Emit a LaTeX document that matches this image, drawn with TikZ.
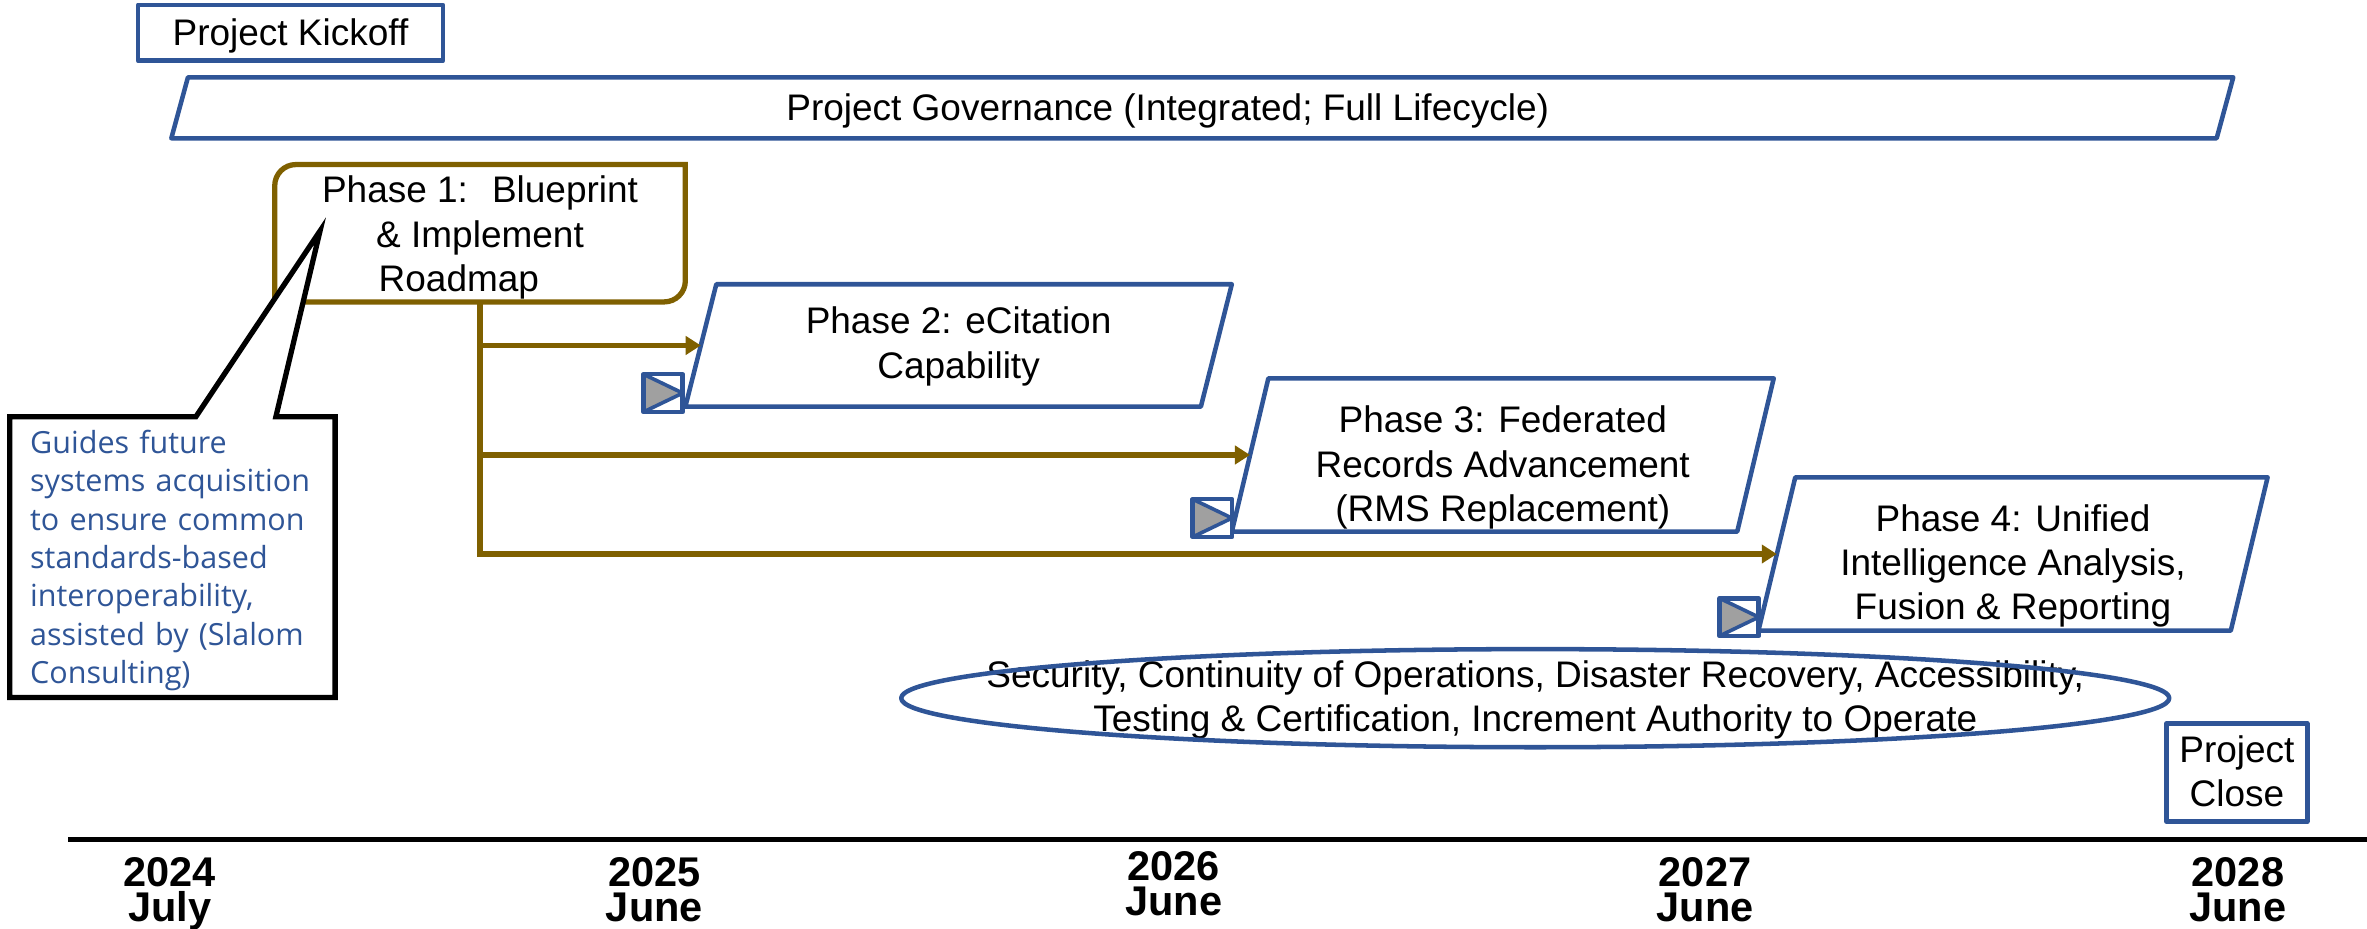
\documentclass[tikz,border=0pt]{standalone}
\usepackage{fontspec}
\setmainfont{Liberation Sans}
\newfontfamily\notefont{Open Sans}
\usetikzlibrary{calc,arrows.meta,shapes.callouts}

\definecolor{planblue}{RGB}{47,85,151}
\definecolor{phasebrown}{RGB}{127,96,0}
\definecolor{playgray}{RGB}{160,160,160}

\begin{document}
\begin{tikzpicture}[x=1pt, y=-1pt,
    every node/.style={font=\fontsize{24.5}{29.4}\selectfont, align=center,
      inner sep=0pt, outer sep=0pt, text height=22pt, text depth=5pt},
    bluebox/.style={draw=planblue, line width=3pt, line join=round},
    brownline/.style={draw=phasebrown, line width=3.5pt},
    brownarrow/.style={brownline, -{Triangle[length=10pt, width=12pt]}},
    playicon/.style={bluebox, fill=white, minimum width=26pt, minimum height=25pt,
      text height=0pt, text depth=0pt,
      path picture={\draw [fill=playgray, draw=planblue, line width=2.4pt]
        (path picture bounding box.north west) -- (path picture bounding box.east)
        -- (path picture bounding box.south west) -- cycle;}},
    notebox/.style={rectangle callout, draw=black, fill=white, line width=3.5pt,
      text=planblue, font=\notefont\fontsize{20.2}{25.4}\selectfont, align=left,
      text width=188.5pt, inner xsep=13.5pt, minimum height=186pt,
      text height=20pt, text depth=157.4pt},
    yearlabel/.style={anchor=base, font=\fontsize{27.5}{23.5}\selectfont\bfseries,
      text height=44pt, text depth=0pt}
  ]
  \useasboundingbox (0,0) rectangle (1568,615);

  % kickoff and governance
  \node [bluebox, minimum width=202pt, minimum height=37pt] (kickoff) at (192.4, 21.75) {Project Kickoff};
  \node (gov) at (773.5, 71.4) {Project Governance (Integrated; Full Lifecycle)};
  \draw [bluebox] ($(gov)+(-660,20.2)$) -- ($(gov)+(-649,-20.2)$) -- ($(gov)+(705.9,-20.2)$) -- ($(gov)+(694.9,20.2)$) -- cycle;

  % phases
  \node [minimum width=272pt, minimum height=91pt, text height=82.4pt] (P1) at (318, 154.5) {Phase 1:~ Blueprint\\ \& Implement\\ Roadmap\hspace*{28pt}};
  \draw [brownline] (P1.north east) -- ($(P1.south east)+(0,-14)$) arc [start angle=0, end angle=-90, radius=14pt]
    -- (P1.south west) -- ($(P1.north west)+(0,14)$) arc [start angle=180, end angle=90, radius=14pt] -- cycle;

  \node [minimum width=341.5pt, minimum height=81.1pt, text height=48.5pt] (P2) at (635, 228.85) {Phase 2: eCitation\\ Capability};
  \draw [bluebox] ($(P2.south west)+(-10.25,0)$) -- ($(P2.north west)+(10.25,0)$) -- ($(P2.north east)+(10.25,0)$) -- ($(P2.south east)+(-10.25,0)$) -- cycle;

  \node [minimum width=334.8pt, minimum height=101.6pt, text height=93.4pt] (P3) at (995.5, 301.4) {Phase 3: Federated\\ Records Advancement\\ (RMS Replacement)};
  \draw [bluebox] ($(P3.south west)+(-12.1,0)$) -- ($(P3.north west)+(12.1,0)$) -- ($(P3.north east)+(12.1,0)$) -- ($(P3.south east)+(-12.1,0)$) -- cycle;

  \node [minimum width=312.9pt, minimum height=101.6pt, text height=92.4pt] (P4) at (1333.5, 367) {Phase 4: Unified\\ Intelligence Analysis,\\ Fusion \& Reporting};
  \draw [bluebox] ($(P4.south west)+(-12.2,0)$) -- ($(P4.north west)+(12.2,0)$) -- ($(P4.north east)+(12.2,0)$) -- ($(P4.south east)+(-12.2,0)$) -- cycle;

  % roadmap branches
  \draw [brownarrow] (P1.south) -- (P1.south |- P4.west) -- (P4.west);
  \draw [brownarrow] (P1.south |- P2.west) -- (P2.west);
  \draw [brownarrow] (P1.south |- P3.west) -- (P3.west);

  \node [playicon] (play2) at ($(P2.south west)+(-25,-9)$) {};
  \node [playicon] (play3) at ($(P3.south west)+(-25,-9)$) {};
  \node [playicon] (play4) at ($(P4.south west)+(-25,-9)$) {};

  % note on phase 1
  \coordinate (tip) at (212, 153);
  \node [notebox, callout absolute pointer={(tip)}, callout pointer width=53pt] (note) at (114.25, 369)
    {Guides future\\ systems acquisition\\ to ensure common\\ standards-based\\ interoperability,\\ assisted by (Slalom\\ Consulting)};

  % cross-cutting work and close
  \node [text height=49.4pt] (safety) at (1017, 462.5) {Security, Continuity of Operations, Disaster Recovery, Accessibility,\\ Testing \& Certification, Increment Authority to Operate};
  \draw [bluebox] (safety.center) ellipse [x radius=420pt, y radius=32.5pt];
  \node [bluebox, minimum width=93.2pt, minimum height=65.1pt, text height=50.3pt] (close) at (1481.8, 511.75) {Project\\ Close};

  % time axis
  \coordinate (axisL) at (45.3, 556);
  \coordinate (axisR) at (1568, 556);
  \draw [line width=3.6pt] (axisL) -- (axisR);
  \node [yearlabel] (t2024) at (112.5, 610.5) {2024\\ July};
  \node [yearlabel] (t2025) at (433.5, 610.5) {2025\\ June};
  \node [yearlabel] (t2026) at (777.5, 606.5) {2026\\ June};
  \node [yearlabel] (t2027) at (1129.5, 610.5) {2027\\ June};
  \node [yearlabel] (t2028) at (1482.5, 610.5) {2028\\ June};
\end{tikzpicture}
\end{document}
